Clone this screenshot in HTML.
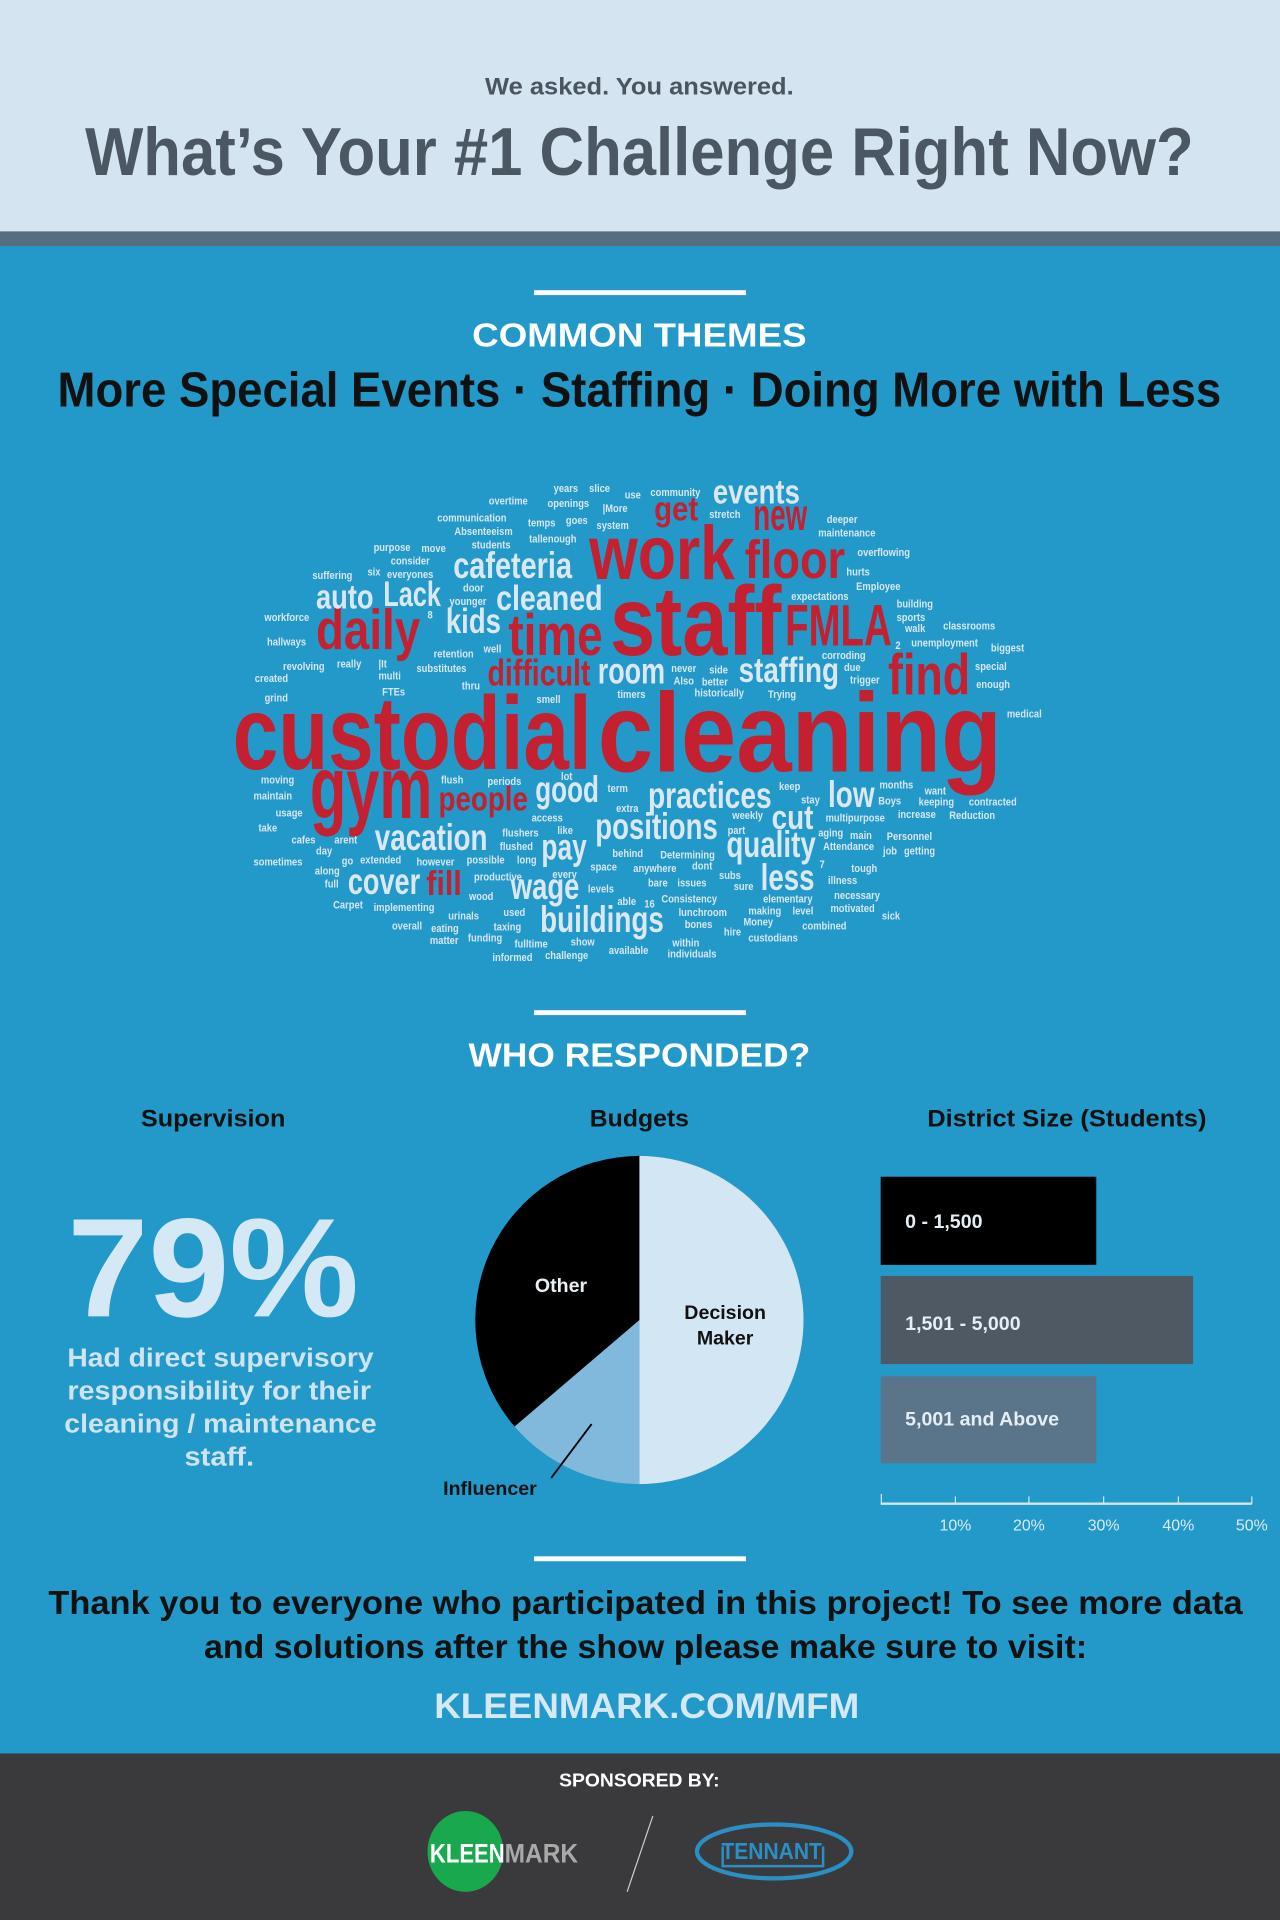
<!DOCTYPE html>
<html><head><meta charset="utf-8"><style>
html,body{margin:0;padding:0;background:#2299c9;}
svg{display:block;}
text{font-family:"Liberation Sans",sans-serif;}
.wc text{font-weight:bold;}
.r{fill:#c4202f;}
.w{fill:#dbe8f3;}
.s{fill:#d8e6f2;font-size:9px;transform-box:fill-box;transform-origin:left center;transform:scale(0.85,1);}
</style></head><body>
<svg xmlns="http://www.w3.org/2000/svg" viewBox="0 0 1045 1568" width="1280" height="1920" preserveAspectRatio="none">
<rect x="0" y="0" width="1045" height="1568" fill="#2299c9"/>
<rect x="0" y="0" width="1045" height="189" fill="#d4e5f1"/>
<rect x="0" y="189" width="1045" height="12" fill="#566e80"/>
<rect x="0" y="1432" width="1045" height="136" fill="#3a3a3c"/>

<text x="522" y="77" font-size="20" font-weight="bold" fill="#4a5560" text-anchor="middle" textLength="252" lengthAdjust="spacingAndGlyphs">We asked. You answered.</text>
<text x="522" y="143" font-size="55" font-weight="bold" fill="#4b5864" text-anchor="middle" textLength="905" lengthAdjust="spacingAndGlyphs">What’s Your #1 Challenge Right Now?</text>

<rect x="436" y="237" width="173" height="4" fill="#fff"/>
<text x="522" y="283" font-size="27" font-weight="bold" fill="#fff" text-anchor="middle" textLength="273" lengthAdjust="spacingAndGlyphs">COMMON THEMES</text>
<text x="522" y="332" font-size="40" font-weight="bold" fill="#111" text-anchor="middle" textLength="950" lengthAdjust="spacingAndGlyphs">More Special Events · Staffing · Doing More with Less</text>

<g class="wc">
<text class="r" x="190" y="628" font-size="85" textLength="293" lengthAdjust="spacingAndGlyphs">custodial</text>
<text class="r" x="488" y="630" font-size="92" textLength="330" lengthAdjust="spacingAndGlyphs">cleaning</text>
<text class="r" x="498" y="535" font-size="80" textLength="140" lengthAdjust="spacingAndGlyphs">staff</text>
<text class="r" x="481" y="473" font-size="62" textLength="119" lengthAdjust="spacingAndGlyphs">work</text>
<text class="r" x="608" y="472" font-size="44" textLength="82" lengthAdjust="spacingAndGlyphs">floor</text>
<text class="r" x="415" y="535" font-size="48" textLength="77" lengthAdjust="spacingAndGlyphs">time</text>
<text class="r" x="258" y="530" font-size="46" textLength="85" lengthAdjust="spacingAndGlyphs">daily</text>
<text class="r" x="641" y="527" font-size="48" textLength="87" lengthAdjust="spacingAndGlyphs">FMLA</text>
<text class="r" x="725" y="567" font-size="47" textLength="67" lengthAdjust="spacingAndGlyphs">find</text>
<text class="r" x="253" y="668" font-size="72" textLength="100" lengthAdjust="spacingAndGlyphs">gym</text>
<text class="r" x="358" y="662" font-size="28" textLength="73" lengthAdjust="spacingAndGlyphs">people</text>
<text class="r" x="398" y="560" font-size="30" textLength="84" lengthAdjust="spacingAndGlyphs">difficult</text>
<text class="r" x="534" y="425" font-size="28" textLength="36" lengthAdjust="spacingAndGlyphs">get</text>
<text class="r" x="615" y="433" font-size="36" textLength="44" lengthAdjust="spacingAndGlyphs">new</text>
<text class="r" x="348" y="731" font-size="28" textLength="29" lengthAdjust="spacingAndGlyphs">fill</text>

<text class="w" x="582" y="411" font-size="28" textLength="71" lengthAdjust="spacingAndGlyphs">events</text>
<text class="w" x="370" y="472" font-size="30" textLength="97" lengthAdjust="spacingAndGlyphs">cafeteria</text>
<text class="w" x="258" y="497" font-size="28" textLength="47" lengthAdjust="spacingAndGlyphs">auto</text>
<text class="w" x="313" y="495" font-size="29" textLength="47" lengthAdjust="spacingAndGlyphs">Lack</text>
<text class="w" x="405" y="498" font-size="29" textLength="87" lengthAdjust="spacingAndGlyphs">cleaned</text>
<text class="w" x="364" y="517" font-size="29" textLength="45" lengthAdjust="spacingAndGlyphs">kids</text>
<text class="w" x="488" y="558" font-size="30" textLength="55" lengthAdjust="spacingAndGlyphs">room</text>
<text class="w" x="603" y="557" font-size="29" textLength="82" lengthAdjust="spacingAndGlyphs">staffing</text>
<text class="w" x="437" y="655" font-size="30" textLength="52" lengthAdjust="spacingAndGlyphs">good</text>
<text class="w" x="529" y="660" font-size="30" textLength="101" lengthAdjust="spacingAndGlyphs">practices</text>
<text class="w" x="676" y="659" font-size="30" textLength="38" lengthAdjust="spacingAndGlyphs">low</text>
<text class="w" x="630" y="677" font-size="28" textLength="34" lengthAdjust="spacingAndGlyphs">cut</text>
<text class="w" x="486" y="685" font-size="30" textLength="100" lengthAdjust="spacingAndGlyphs">positions</text>
<text class="w" x="306" y="694" font-size="30" textLength="92" lengthAdjust="spacingAndGlyphs">vacation</text>
<text class="w" x="442" y="702" font-size="30" textLength="37" lengthAdjust="spacingAndGlyphs">pay</text>
<text class="w" x="593" y="700" font-size="30" textLength="73" lengthAdjust="spacingAndGlyphs">quality</text>
<text class="w" x="621" y="727" font-size="30" textLength="44" lengthAdjust="spacingAndGlyphs">less</text>
<text class="w" x="284" y="730" font-size="30" textLength="59" lengthAdjust="spacingAndGlyphs">cover</text>
<text class="w" x="417" y="734" font-size="30" textLength="56" lengthAdjust="spacingAndGlyphs">wage</text>
<text class="w" x="441" y="761" font-size="30" textLength="101" lengthAdjust="spacingAndGlyphs">buildings</text>

<text class="s" x="452" y="402">years</text><text class="s" x="481" y="402">slice</text><text class="s" x="510" y="407">use</text><text class="s" x="531" y="405">community</text>
<text class="s" x="399" y="412">overtime</text><text class="s" x="447" y="414">openings</text><text class="s" x="492" y="418">|More</text><text class="s" x="579" y="423">stretch</text>
<text class="s" x="357" y="426">communication</text><text class="s" x="431" y="430">temps</text><text class="s" x="462" y="428">goes</text><text class="s" x="487" y="432">system</text><text class="s" x="675" y="427">deeper</text>
<text class="s" x="371" y="437">Absenteeism</text><text class="s" x="668" y="438">maintenance</text>
<text class="s" x="432" y="443">tallenough</text><text class="s" x="385" y="448">students</text><text class="s" x="700" y="454">overflowing</text>
<text class="s" x="305" y="450">purpose</text><text class="s" x="344" y="451">move</text><text class="s" x="319" y="461">consider</text><text class="s" x="691" y="470">hurts</text>
<text class="s" x="255" y="473">suffering</text><text class="s" x="300" y="470">six</text><text class="s" x="316" y="472">everyones</text><text class="s" x="378" y="483">door</text><text class="s" x="699" y="482">Employee</text>
<text class="s" x="646" y="490">expectations</text><text class="s" x="367" y="494">younger</text><text class="s" x="732" y="496">building</text>
<text class="s" x="732" y="507">sports</text><text class="s" x="216" y="507">workforce</text><text class="s" x="349" y="505">8</text><text class="s" x="739" y="516">walk</text><text class="s" x="770" y="514">classrooms</text>
<text class="s" x="218" y="527">hallways</text><text class="s" x="744" y="528">unemployment</text><text class="s" x="731" y="530">2</text><text class="s" x="809" y="532">biggest</text><text class="s" x="354" y="537">retention</text><text class="s" x="395" y="533">well</text>
<text class="s" x="671" y="538">corroding</text><text class="s" x="231" y="547">revolving</text><text class="s" x="275" y="545">really</text><text class="s" x="309" y="545">|It</text><text class="s" x="340" y="549">substitutes</text><text class="s" x="548" y="549">never</text><text class="s" x="579" y="550">side</text><text class="s" x="689" y="548">due</text><text class="s" x="796" y="547">special</text>
<text class="s" x="208" y="557">created</text><text class="s" x="309" y="555">multi</text><text class="s" x="377" y="563">thru</text><text class="s" x="550" y="559">Also</text><text class="s" x="573" y="560">better</text><text class="s" x="694" y="558">trigger</text><text class="s" x="797" y="562">enough</text>
<text class="s" x="312" y="568">FTEs</text><text class="s" x="504" y="570">timers</text><text class="s" x="567" y="569">historically</text><text class="s" x="627" y="570">Trying</text><text class="s" x="438" y="574">smell</text><text class="s" x="216" y="573">grind</text><text class="s" x="822" y="586">medical</text>
<text class="s" x="213" y="640">moving</text><text class="s" x="360" y="640">flush</text><text class="s" x="398" y="641">periods</text><text class="s" x="458" y="637">lot</text><text class="s" x="496" y="647">term</text><text class="s" x="636" y="645">keep</text><text class="s" x="718" y="644">months</text><text class="s" x="755" y="649">want</text>
<text class="s" x="207" y="653">maintain</text><text class="s" x="503" y="663">extra</text><text class="s" x="654" y="656">stay</text><text class="s" x="717" y="657">Boys</text><text class="s" x="750" y="658">keeping</text><text class="s" x="791" y="658">contracted</text>
<text class="s" x="225" y="667">usage</text><text class="s" x="434" y="671">access</text><text class="s" x="598" y="669">weekly</text><text class="s" x="674" y="671">multipurpose</text><text class="s" x="733" y="668">increase</text><text class="s" x="775" y="669">Reduction</text>
<text class="s" x="211" y="679">take</text><text class="s" x="410" y="683">flushers</text><text class="s" x="455" y="681">like</text><text class="s" x="594" y="681">part</text><text class="s" x="668" y="683">aging</text><text class="s" x="694" y="685">main</text><text class="s" x="724" y="686">Personnel</text>
<text class="s" x="238" y="689">cafes</text><text class="s" x="273" y="689">arent</text><text class="s" x="408" y="694">flushed</text><text class="s" x="672" y="694">Attendance</text><text class="s" x="258" y="698">day</text><text class="s" x="500" y="700">behind</text><text class="s" x="539" y="701">Determining</text><text class="s" x="721" y="698">job</text><text class="s" x="738" y="698">getting</text>
<text class="s" x="207" y="707">sometimes</text><text class="s" x="279" y="706">go</text><text class="s" x="294" y="705">extended</text><text class="s" x="340" y="707">however</text><text class="s" x="381" y="705">possible</text><text class="s" x="422" y="705">long</text><text class="s" x="482" y="711">space</text><text class="s" x="517" y="712">anywhere</text><text class="s" x="565" y="710">dont</text><text class="s" x="669" y="709">7</text><text class="s" x="695" y="712">tough</text>
<text class="s" x="257" y="714">along</text><text class="s" x="387" y="719">productive</text><text class="s" x="451" y="717">every</text><text class="s" x="587" y="718">subs</text><text class="s" x="676" y="722">illness</text><text class="s" x="265" y="725">full</text><text class="s" x="529" y="724">bare</text><text class="s" x="553" y="724">issues</text>
<text class="s" x="480" y="729">levels</text><text class="s" x="599" y="727">sure</text><text class="s" x="623" y="737">elementary</text><text class="s" x="681" y="734">necessary</text><text class="s" x="272" y="742">Carpet</text><text class="s" x="305" y="744">implementing</text><text class="s" x="383" y="735">wood</text><text class="s" x="504" y="739">able</text><text class="s" x="526" y="741">16</text><text class="s" x="540" y="737">Consistency</text>
<text class="s" x="366" y="751">urinals</text><text class="s" x="411" y="748">used</text><text class="s" x="554" y="748">lunchroom</text><text class="s" x="611" y="747">making</text><text class="s" x="647" y="747">level</text><text class="s" x="678" y="745">motivated</text><text class="s" x="720" y="751">sick</text>
<text class="s" x="320" y="759">overall</text><text class="s" x="352" y="761">eating</text><text class="s" x="403" y="760">taxing</text><text class="s" x="559" y="758">bones</text><text class="s" x="607" y="756">Money</text><text class="s" x="655" y="759">combined</text><text class="s" x="591" y="764">hire</text>
<text class="s" x="351" y="771">matter</text><text class="s" x="382" y="769">funding</text><text class="s" x="420" y="774">fulltime</text><text class="s" x="466" y="772">show</text><text class="s" x="549" y="773">within</text><text class="s" x="611" y="769">custodians</text>
<text class="s" x="402" y="785">informed</text><text class="s" x="445" y="783">challenge</text><text class="s" x="497" y="779">available</text><text class="s" x="545" y="782">individuals</text>
</g>

<rect x="436" y="825" width="173" height="4" fill="#fff"/>
<text x="522" y="871" font-size="27" font-weight="bold" fill="#fff" text-anchor="middle" textLength="279" lengthAdjust="spacingAndGlyphs">WHO RESPONDED?</text>

<text x="174" y="920" font-size="20" font-weight="bold" fill="#111" text-anchor="middle" textLength="118" lengthAdjust="spacingAndGlyphs">Supervision</text>
<text x="522" y="920" font-size="20" font-weight="bold" fill="#111" text-anchor="middle" textLength="81" lengthAdjust="spacingAndGlyphs">Budgets</text>
<text x="871" y="920" font-size="20" font-weight="bold" fill="#111" text-anchor="middle" textLength="228" lengthAdjust="spacingAndGlyphs">District Size (Students)</text>

<text x="174" y="1075" font-size="115" font-weight="bold" fill="#d4e8f5" text-anchor="middle" textLength="238" lengthAdjust="spacingAndGlyphs">79%</text>
<g font-size="21" font-weight="bold" fill="#cfe3f1" text-anchor="middle">
<text x="180" y="1116" textLength="250" lengthAdjust="spacingAndGlyphs">Had direct supervisory</text>
<text x="179" y="1143" textLength="248" lengthAdjust="spacingAndGlyphs">responsibility for their</text>
<text x="180" y="1170" textLength="255" lengthAdjust="spacingAndGlyphs">cleaning / maintenance</text>
<text x="179" y="1197" textLength="57" lengthAdjust="spacingAndGlyphs">staff.</text>
</g>

<path d="M522,1078 L522,944 A134,134 0 0 1 522,1212 Z" fill="#d3e6f3"/>
<path d="M522,1078 L522,1212 A134,134 0 0 1 420.1,1165 Z" fill="#80b9dc"/>
<path d="M522,1078 L420.1,1165 A134,134 0 0 1 522,944 Z" fill="#000"/>
<text x="458" y="1055" font-size="16" font-weight="bold" fill="#e8f0f6" text-anchor="middle">Other</text>
<text x="592" y="1077" font-size="16" font-weight="bold" fill="#111" text-anchor="middle">Decision</text>
<text x="592" y="1098" font-size="16" font-weight="bold" fill="#111" text-anchor="middle">Maker</text>
<line x1="450" y1="1207" x2="483" y2="1163" stroke="#000" stroke-width="1.5"/>
<text x="400" y="1221" font-size="16" font-weight="bold" fill="#111" text-anchor="middle">Influencer</text>

<rect x="719" y="961" width="176" height="72" fill="#000"/>
<rect x="719" y="1042" width="255" height="72" fill="#4f5963"/>
<rect x="719" y="1124" width="176" height="71" fill="#5a7489"/>
<g font-size="16" font-weight="bold" fill="#e5eef5">
<text x="739" y="1003">0 - 1,500</text>
<text x="739" y="1086">1,501 - 5,000</text>
<text x="739" y="1164">5,001 and Above</text>
</g>
<line x1="719" y1="1228" x2="1022" y2="1228" stroke="#cfe6f3" stroke-width="2"/>
<g stroke="#cfe6f3" stroke-width="1">
<line x1="719.5" y1="1220" x2="719.5" y2="1228"/><line x1="780" y1="1222" x2="780" y2="1228"/><line x1="840" y1="1222" x2="840" y2="1228"/><line x1="901" y1="1222" x2="901" y2="1228"/><line x1="962" y1="1222" x2="962" y2="1228"/><line x1="1022" y1="1222" x2="1022" y2="1228"/>
</g>
<g font-size="13" fill="#dcebf6" text-anchor="middle">
<text x="780" y="1250">10%</text><text x="840" y="1250">20%</text><text x="901" y="1250">30%</text><text x="962" y="1250">40%</text><text x="1022" y="1250">50%</text>
</g>

<rect x="436" y="1271" width="173" height="4" fill="#fff"/>
<text x="527" y="1318" font-size="27" font-weight="bold" fill="#111" text-anchor="middle" textLength="975" lengthAdjust="spacingAndGlyphs">Thank you to everyone who participated in this project! To see more data</text>
<text x="527" y="1354" font-size="27" font-weight="bold" fill="#111" text-anchor="middle" textLength="721" lengthAdjust="spacingAndGlyphs">and solutions after the show please make sure to visit:</text>
<text x="528" y="1403" font-size="29" font-weight="bold" fill="#d4e8f5" text-anchor="middle" textLength="347" lengthAdjust="spacingAndGlyphs">KLEENMARK.COM/MFM</text>

<text x="522" y="1459" font-size="15" font-weight="bold" fill="#fff" text-anchor="middle" textLength="131" lengthAdjust="spacingAndGlyphs">SPONSORED BY:</text>
<ellipse cx="380" cy="1512" rx="31" ry="33" fill="#1aa84f"/>
<text y="1521" font-size="22" font-weight="bold"><tspan x="351" fill="#fff" textLength="61" lengthAdjust="spacingAndGlyphs">KLEEN</tspan><tspan x="412" fill="#a9a9a9" textLength="60" lengthAdjust="spacingAndGlyphs">MARK</tspan></text>
<line x1="533" y1="1483" x2="512" y2="1545" stroke="#cccccc" stroke-width="1"/>
<ellipse cx="632" cy="1512" rx="63" ry="22" fill="none" stroke="#2a8fc4" stroke-width="3.5"/>
<text x="630" y="1518" font-size="19" font-weight="bold" fill="#2a8fc4" text-anchor="middle" textLength="82" lengthAdjust="spacingAndGlyphs">TENNANT</text>
<polyline points="590,1508 590,1524 672,1524 672,1508" fill="none" stroke="#2a8fc4" stroke-width="2"/>
</svg>
</body></html>
